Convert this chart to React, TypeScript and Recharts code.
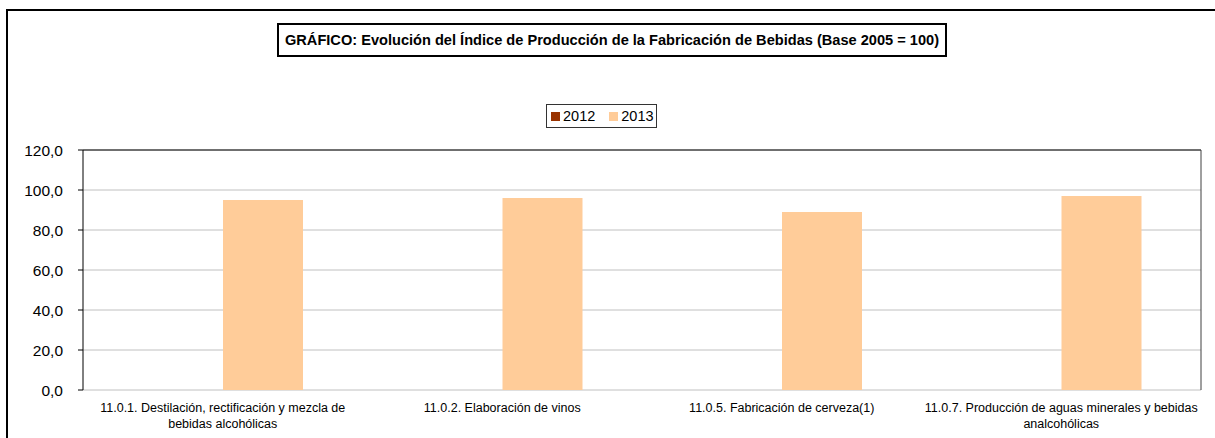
import React from "react";
import {
  BarChart,
  Bar,
  XAxis,
  YAxis,
  CartesianGrid,
  ReferenceLine,
} from "recharts";

const categories = [
  "11.0.1. Destilación, rectificación y mezcla de bebidas alcohólicas",
  "11.0.2. Elaboración de vinos",
  "11.0.5. Fabricación de cerveza(1)",
  "11.0.7. Producción de aguas minerales y bebidas analcohólicas",
];
const values2012: (number | null)[] = [null, null, null, null];
const values2013 = [95.0, 96.0, 89.0, 97.0];
const yTicks = [0, 20, 40, 60, 80, 100, 120];
const boundaryTicks = [0, 1, 2, 3, 4];
const seriesNames = ["2012", "2013"];

const data = categories.map((c, i) => ({
  name: c,
  y2012: values2012[i],
  y2013: values2013[i],
}));

const FONT = "'Liberation Sans', Arial, sans-serif";
const C2012 = "#993300";
const C2013 = "#FFCC99";
const TICK_FS = 12.5;
const WRAP_W = 280;

const fmt = (v: number) => v.toFixed(1).replace(".", ",");

let ctx: CanvasRenderingContext2D | null = null;
const measure = (s: string) => {
  if (!ctx && typeof document !== "undefined") {
    ctx = document.createElement("canvas").getContext("2d");
  }
  if (!ctx) return s.length * TICK_FS * 0.5;
  ctx.font = `${TICK_FS}px 'Liberation Sans', Arial, sans-serif`;
  return ctx.measureText(s).width;
};

const wrap = (s: string, maxW: number) => {
  const words = s.split(" ");
  const lines: string[] = [];
  let cur = "";
  for (const w of words) {
    const cand = cur ? cur + " " + w : w;
    if (measure(cand) <= maxW || !cur) cur = cand;
    else {
      lines.push(cur);
      cur = w;
    }
  }
  if (cur) lines.push(cur);
  return lines;
};

const CatTick = (props: any) => {
  const { x, y, payload } = props;
  const lines = wrap(String(payload.value), WRAP_W);
  return (
    <text
      x={x}
      y={y + 6}
      textAnchor="middle"
      fontSize={TICK_FS}
      fontFamily={FONT}
      fill="#000"
    >
      {lines.map((l, i) => (
        <tspan key={i} x={x} dy={i === 0 ? "0.71em" : 16}>
          {l}
        </tspan>
      ))}
    </text>
  );
};

const LegendBox = () => (
  <div
    style={{
      position: "absolute",
      left: 546,
      top: 104,
      border: "1px solid #333",
      background: "#fff",
      width: 109,
      height: 22,
      display: "flex",
      alignItems: "center",
      fontFamily: FONT,
      fontSize: 14.5,
      color: "#000",
    }}
  >
    <span style={{ display: "inline-block", width: 9, height: 9, background: C2012, marginLeft: 4, marginRight: 3 }} />
    <span>{seriesNames[0]}</span>
    <span style={{ display: "inline-block", width: 9, height: 9, background: C2013, marginLeft: 14, marginRight: 3 }} />
    <span>{seriesNames[1]}</span>
  </div>
);

export default function App() {
  return (
    <div
      style={{
        position: "absolute",
        left: 0,
        top: 0,
        width: 1215,
        height: 438,
        overflow: "hidden",
        background: "#fff",
        fontFamily: FONT,
      }}
    >
      <div
        style={{
          position: "absolute",
          left: 6,
          top: 9,
          width: 1400,
          height: 600,
          border: "2px solid #000",
        }}
      />
      <div
        style={{
          position: "absolute",
          left: 277,
          top: 23,
          width: 666,
          height: 30,
          border: "2px solid #000",
          display: "flex",
          alignItems: "center",
          justifyContent: "center",
          fontWeight: "bold",
          fontSize: 14.6,
          color: "#000",
          whiteSpace: "nowrap",
        }}
      >
        GRÁFICO: Evolución del Índice de Producción de la Fabricación de Bebidas (Base 2005 = 100)
      </div>
      <LegendBox />
      <div style={{ position: "absolute", left: 0, top: 0 }}>
        <BarChart
          width={1215}
          height={438}
          data={data}
          margin={{ top: 150, right: 0, bottom: 0, left: 0 }}
          barGap={0}
          barCategoryGap={60}
        >
          <CartesianGrid horizontal vertical={false} stroke="#c0c0c0" yAxisId="left" xAxisId="cat" />
          <XAxis
            xAxisId="b"
            type="number"
            domain={[0, 4]}
            ticks={boundaryTicks}
            allowDataOverflow
            height={0}
            tick={false}
            tickLine={{ stroke: "#000" }}
            tickSize={5}
            axisLine={{ stroke: "#000" }}
          />
          <XAxis
            xAxisId="cat"
            dataKey="name"
            height={48}
            interval={0}
            tickLine={false}
            axisLine={false}
            tickSize={5}
            tickMargin={2}
            tick={<CatTick />}
          />
          <YAxis
            yAxisId="left"
            width={83}
            domain={[0, 120]}
            ticks={yTicks}
            tickFormatter={fmt}
            tickSize={5}
            tickMargin={15}
            tickLine={{ stroke: "#000" }}
            axisLine={{ stroke: "#000" }}
            tick={{ fontSize: 15.5, fontFamily: FONT, fill: "#000" }}
          />
          <YAxis
            yAxisId="right"
            orientation="right"
            width={14}
            domain={[0, 120]}
            tick={false}
            tickLine={false}
            axisLine={{ stroke: "#404040" }}
          />
          <ReferenceLine yAxisId="left" xAxisId="cat" y={120} stroke="#000" />
          <Bar dataKey="y2012" name={seriesNames[0]} xAxisId="cat" yAxisId="left" fill={C2012} isAnimationActive={false} />
          <Bar dataKey="y2013" name={seriesNames[1]} xAxisId="cat" yAxisId="left" fill={C2013} isAnimationActive={false} />
        </BarChart>
      </div>
    </div>
  );
}
